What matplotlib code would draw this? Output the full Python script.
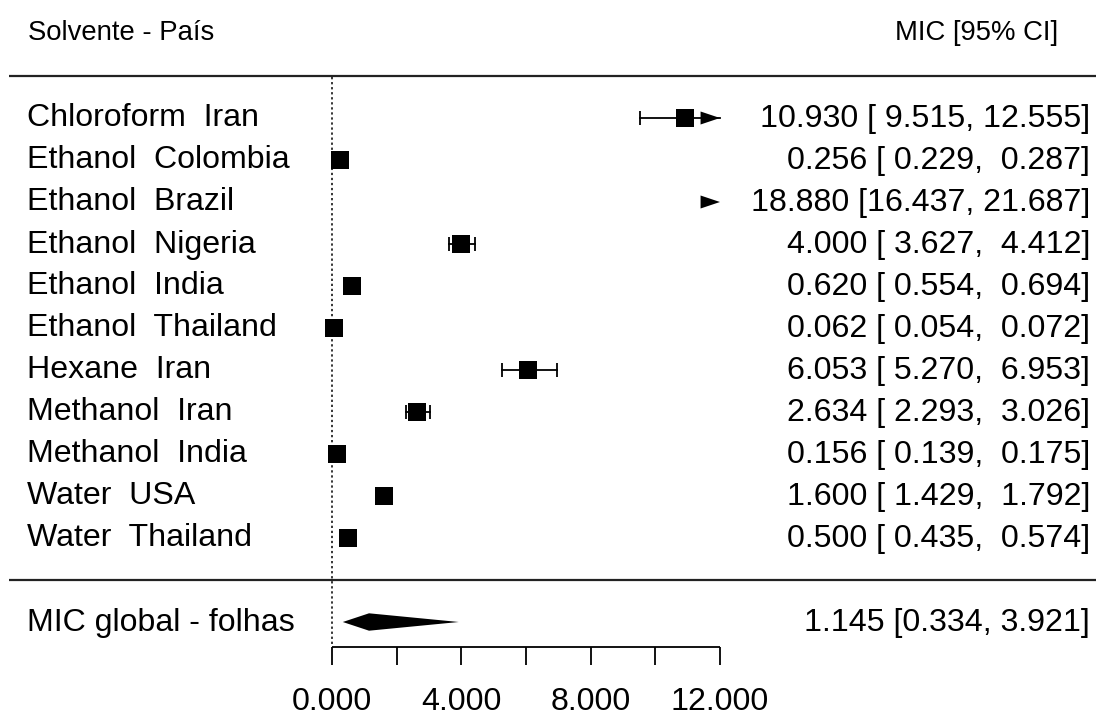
import matplotlib
matplotlib.use("Agg")
import matplotlib.pyplot as plt
from matplotlib.patches import Polygon

plt.rcParams['font.family'] = ['Liberation Sans', 'DejaVu Sans']

labels = ["Chloroform  Iran", "Ethanol  Colombia", "Ethanol  Brazil", "Ethanol  Nigeria",
          "Ethanol  India", "Ethanol  Thailand", "Hexane  Iran", "Methanol  Iran",
          "Methanol  India", "Water  USA", "Water  Thailand"]
est = [10.930, 0.256, 18.880, 4.000, 0.620, 0.062, 6.053, 2.634, 0.156, 1.600, 0.500]
ci_lo = [9.515, 0.229, 16.437, 3.627, 0.554, 0.054, 5.270, 2.293, 0.139, 1.429, 0.435]
ci_hi = [12.555, 0.287, 21.687, 4.412, 0.694, 0.072, 6.953, 3.026, 0.175, 1.792, 0.574]

summary_label = "MIC global - folhas"
summary_est, summary_lo, summary_hi = 1.145, 0.334, 3.921

header_left = "Solvente - País"
header_right = "MIC [95% CI]"
axis_ticks = [0, 2, 4, 6, 8, 10, 12]
axis_labels = ["0.000", "4.000", "8.000", "12.000"]
axis_label_pos = [0, 4, 8, 12]

W, H = 1096, 712
px_per_unit = 32.33
x0_px = 332
xmin = -x0_px / px_per_unit
xmax = (W - x0_px) / px_per_unit
amin, amax = 0, 12

fig = plt.figure(figsize=(W / 100, H / 100), dpi=100)
ax = fig.add_axes([0, 0, 1, 1])
ax.set_xlim(xmin, xmax)
ax.set_ylim(H, 0)
ax.axis('off')

tr = ax.get_yaxis_transform()
fs = 23.1
k = 1.3

row_y = [118 + 42 * i for i in range(len(labels))]
sum_y = 622

# header and separators
ax.text(28 / W, 40.5, header_left, transform=tr, fontsize=19.8, ha='left', va='baseline')
ax.text(1058 / W, 40.5, header_right, transform=tr, fontsize=19.8, ha='right', va='baseline')
for yl in (76, 580):
    ax.plot([9 / W, 1], [yl, yl], transform=tr, color='#222222', lw=1.6, solid_capstyle='butt')

# reference line at zero
ax.plot([0, 0], [77, 646], color='black', lw=1.1, ls=(0, (1.5, 1.8)))

tri_len = 0.6
tri_h = 6.5

for lab, e, lo, hi, y in zip(labels, est, ci_lo, ci_hi, row_y):
    ax.text(27 / W, y + 8.5, lab, transform=tr, fontsize=fs, ha='left', va='baseline')
    txt = f"{e:.3f} [{lo:6.3f}, {hi:6.3f}]"
    ax.text(1090 / W, y + 8.5, txt, transform=tr, fontsize=fs, ha='right', va='baseline')
    if lo > amax:
        ax.add_patch(Polygon([(amax - tri_len, y - tri_h), (amax, y), (amax - tri_len, y + tri_h)],
                             closed=True, color='black', lw=0))
        continue
    right = min(hi, amax)
    ax.plot([lo, right], [y, y], color='black', lw=k)
    ax.plot([lo], [y], marker='|', ms=9.5, mew=k, color='black')
    if hi > amax:
        ax.add_patch(Polygon([(amax - tri_len, y - tri_h), (amax, y), (amax - tri_len, y + tri_h)],
                             closed=True, color='black', lw=0))
    else:
        ax.plot([hi], [y], marker='|', ms=9.5, mew=k, color='black')
    ax.plot([e], [y], marker='s', ms=12.3, color='black', mew=0)

# summary diamond
ax.text(27 / W, sum_y + 8.5, summary_label, transform=tr, fontsize=fs, ha='left', va='baseline')
ax.text(1090 / W, sum_y + 8.5, f"{summary_est:.3f} [{summary_lo:.3f}, {summary_hi:.3f}]",
        transform=tr, fontsize=fs, ha='right', va='baseline')
ax.add_patch(Polygon([(summary_lo, sum_y), (summary_est, sum_y - 8.7),
                      (summary_hi, sum_y), (summary_est, sum_y + 8.7)],
                     closed=True, color='black', lw=0))

# x axis
ax_y = 647
ax.plot([amin, amax], [ax_y, ax_y], color='black', lw=k, solid_capstyle='butt')
for t in axis_ticks:
    ax.plot([t, t], [ax_y, ax_y + 18], color='black', lw=k, solid_capstyle='butt')
for t, l in zip(axis_label_pos, axis_labels):
    ax.text(t, 709.5, l, fontsize=fs, ha='center', va='baseline')

fig.savefig("out.png", dpi=100)
